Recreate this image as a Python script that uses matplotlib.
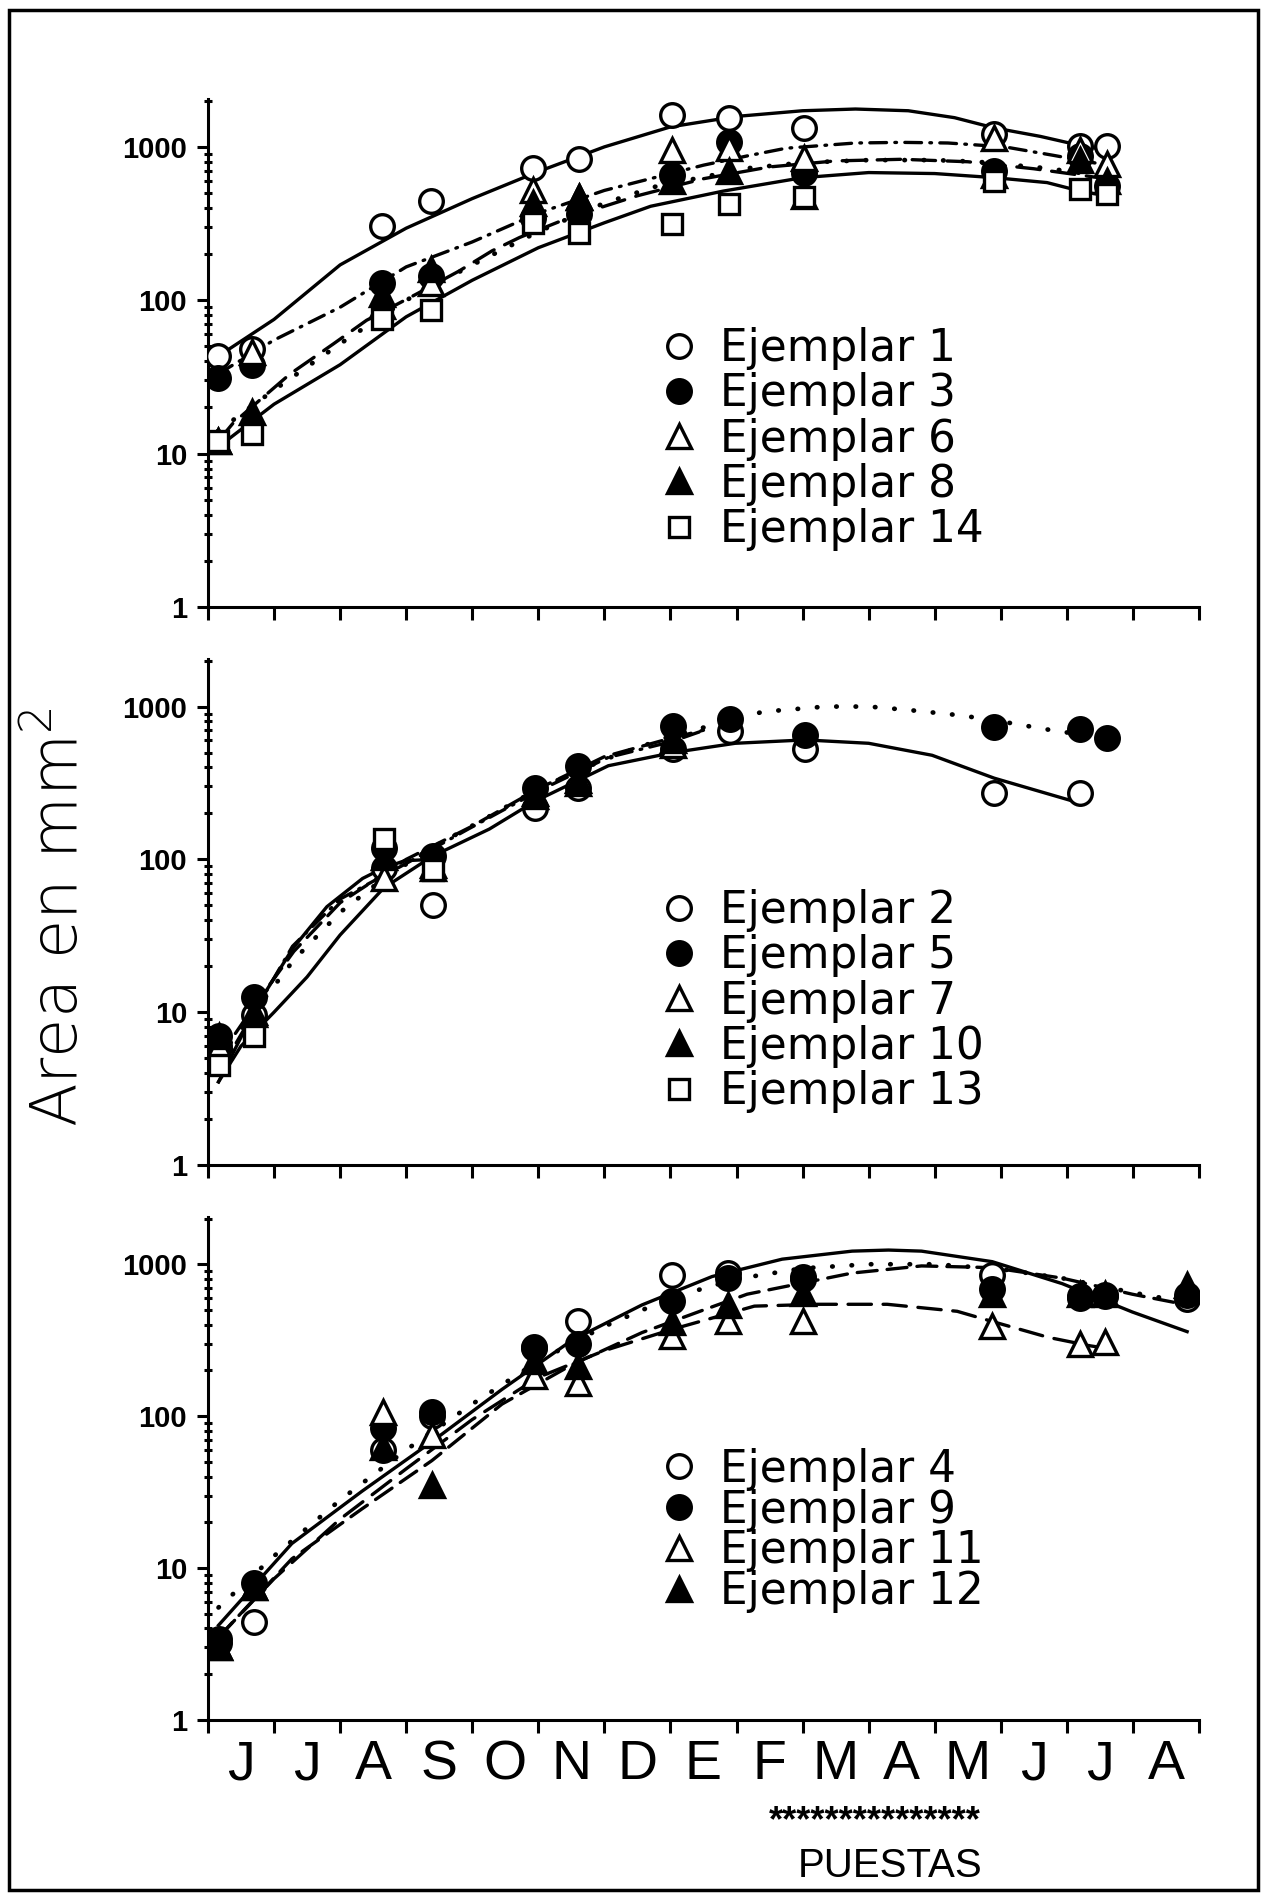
import matplotlib
matplotlib.use("Agg")
import matplotlib.pyplot as plt
from matplotlib.lines import Line2D
from matplotlib.patches import Rectangle

meses = ["J", "J", "A", "S", "O", "N", "D", "E", "F", "M", "A", "M", "J", "J", "A"]

# --- panel superior: ejemplares 1, 3, 6, 8, 14 (meses desde 1 de junio)
fechas_a = [0.15, 0.66, 2.63, 3.38, 4.92, 5.61, 7.03, 7.89, 9.02, 11.9, 13.2, 13.6]
ej1 = [43, 48, 305, 445, 730, 835, 1620, 1550, 1330, 1215, 1020, 1010]
ej3 = [31, 38, 130, 145, 345, 365, 655, 1070, 680, 700, 870, 555]
ej6 = [12, 46, 92, 130, 520, 470, 960, 980, 850, 1150, 960, 770]
ej8 = [12, 18.6, 110, 160, 430, 470, 600, 700, 480, 660, 820, 600]
ej14 = [12, 13.5, 76, 86, 320, 275, 315, 425, 470, 600, 530, 495]

aj1_x = [0.15, 1, 2, 3, 4, 5, 6, 7, 8, 9, 9.8, 10.6, 11.3, 11.9, 12.6, 13.1, 13.6]
aj1_y = [43, 75, 170, 295, 460, 690, 1000, 1350, 1580, 1720, 1765, 1720, 1550, 1330, 1170, 1045, 950]
aj3_x = [0.15, 1, 2, 3, 4, 5, 6, 7, 7.5, 8.2, 8.75, 9.8, 10.5, 11.2, 12.06, 12.8, 13.4, 13.6]
aj3_y = [33, 55, 90, 165, 240, 370, 520, 670, 760, 880, 980, 1060, 1070, 1060, 1000, 880, 790, 760]
aj6_x = [0.15, 1, 2, 3, 4, 5, 6, 6.77, 7.45, 8.16, 9, 10, 11, 11.65, 12.34, 12.7, 13.6]
aj6_y = [14, 26, 52, 100, 170, 280, 430, 550, 630, 725, 790, 820, 820, 800, 750, 725, 640]
aj8_x = [0.15, 0.38, 1.24, 1.9, 2.4, 3.16, 3.8, 4.3, 4.72, 5.5, 6.5, 7.5, 8.5, 9.5, 10.5, 11.5, 12.5, 13.6]
aj8_y = [12, 15.8, 33, 52, 74, 110, 155, 210, 257, 350, 480, 620, 740, 810, 830, 800, 720, 620]
aj14_x = [0.15, 1, 2, 3, 4, 5, 6, 6.7, 7.8, 9, 10, 11, 11.9, 12.7, 13.2, 13.6]
aj14_y = [11, 21, 38, 78, 135, 220, 320, 410, 515, 630, 680, 670, 630, 585, 515, 480]

# --- panel central: ejemplares 2, 5, 7, 10, 13
fechas_b = [0.16, 0.7, 2.66, 3.4, 4.95, 5.6, 7.04, 7.9, 9.04, 11.9, 13.2, 13.6]
ej2 = [6, 9.6, 88, 50, 216, 295, 530, 690, 530, 270, 270]
ej5 = [7, 12.5, 118, 105, 295, 410, 750, 830, 655, 730, 710, 620]
ej7 = [6, 9.8, 76, 88, 270, 315, 560]
ej10 = [7, 10, 103, 92, 260, 330, 600]
ej13 = [4.5, 7, 135, 85]

aj2_x = [0.16, 0.5, 1, 1.5, 2, 2.66, 3.4, 4.26, 4.95, 6.06, 7.04, 7.98, 9.04, 10, 10.96, 11.9, 13.1]
aj2_y = [3.5, 6, 10, 17, 32, 65, 105, 158, 240, 410, 500, 575, 605, 575, 480, 340, 240]
aj5_x = [0.16, 0.7, 1.3, 2, 2.66, 3.4, 4.2, 5, 6, 7, 8, 8.4, 9.35, 10, 10.6, 11.4, 12, 12.77, 13.6]
aj5_y = [5, 10, 22, 45, 75, 120, 185, 290, 450, 640, 830, 925, 1000, 1000, 950, 875, 800, 700, 620]
aj7_x = [0.16, 0.7, 1.28, 2, 2.98, 3.94, 5, 6.06, 7.02, 7.55]
aj7_y = [4, 10, 27, 55, 93, 158, 280, 465, 590, 710]
aj10_x = [0.16, 0.7, 1.3, 2, 3, 4, 5, 6, 7, 7.5]
aj10_y = [5, 11, 25, 52, 100, 165, 290, 470, 620, 700]
aj13_x = [0.16, 0.74, 1.28, 1.8, 2.34, 2.66, 2.98, 3.4]
aj13_y = [3.5, 11, 26, 49, 75, 88, 98, 100]

# --- panel inferior: ejemplares 4, 9, 11, 12
fechas_c = [0.16, 0.69, 2.65, 3.39, 4.93, 5.6, 7.02, 7.87, 9.0, 11.87, 13.2, 13.57, 14.82]
ej4 = [3.2, 4.4, 60, 100, 280, 425, 850, 875, 800, 850, 600, 620, 590]
ej9 = [3.4, 8, 83, 107, 285, 300, 570, 810, 830, 690, 620, 630, 630]
ej11 = [3, 7.5, 107, 75, 185, 165, 335, 425, 425, 390, 300, 310]
ej12 = [3, 7.5, 63, 35, 230, 215, 415, 540, 650, 640, 640, 640, 725]

aj4_x = [0.16, 0.69, 1.27, 2.33, 3.39, 4.45, 5.51, 6.57, 7.63, 8.69, 9.75, 10.3, 10.8, 11.87, 12.93, 13.99, 14.82]
aj4_y = [4.2, 7.6, 14.5, 32, 68, 150, 316, 540, 830, 1080, 1220, 1240, 1220, 1040, 745, 485, 360]
aj9_x = [0.16, 1, 2, 3, 4, 5, 6, 7, 8, 9, 10, 11, 12, 13, 14, 14.82]
aj9_y = [5.5, 12, 28, 60, 120, 230, 390, 600, 800, 940, 1000, 1000, 930, 800, 650, 560]
aj12_x = [0.16, 1.27, 2.33, 3.39, 4.45, 5.51, 6.57, 7.5, 8.16, 9.75, 10.8, 11.87, 12.93, 13.99, 14.82]
aj12_y = [3.5, 11.5, 24.5, 51, 120, 218, 355, 500, 635, 875, 975, 950, 810, 635, 540]
aj11_x = [0.16, 1, 2, 3, 4, 5, 6, 7, 8.27, 9.22, 10.28, 11.34, 11.87, 12.72, 13.36, 13.6]
aj11_y = [3.5, 8.5, 21, 45, 95, 180, 270, 370, 530, 545, 545, 490, 420, 330, 290, 280]

SOLID = "-"
DOT = (0, (0.1, 4.0))
DASHDOT = (0, (5, 2.5, 0.5, 2.5))
DASH = (0, (6, 3))
LONGDASH = (0, (7, 3.5))

MK = {"oc": ("o", "white"), "of": ("o", "black"), "tc": ("^", "white"),
      "tf": ("^", "black"), "sc": ("s", "white")}

paneles = [
    {
        "pos": [0.164, 0.6795, 0.7816, 0.2682],
        "series": [("Ejemplar 1", "oc", fechas_a, ej1), ("Ejemplar 3", "of", fechas_a, ej3),
                   ("Ejemplar 6", "tc", fechas_a, ej6), ("Ejemplar 8", "tf", fechas_a, ej8),
                   ("Ejemplar 14", "sc", fechas_a, ej14)],
        "curvas": [(aj1_x, aj1_y, SOLID), (aj3_x, aj3_y, DASHDOT), (aj6_x, aj6_y, DOT),
                   (aj8_x, aj8_y, LONGDASH), (aj14_x, aj14_y, SOLID)],
        "leg": (0.453, 0.551), "sep": 0.05,
    },
    {
        "pos": [0.164, 0.3849, 0.7816, 0.2672],
        "series": [("Ejemplar 2", "oc", fechas_b, ej2), ("Ejemplar 5", "of", fechas_b, ej5),
                   ("Ejemplar 7", "tc", fechas_b, ej7), ("Ejemplar 10", "tf", fechas_b, ej10),
                   ("Ejemplar 13", "sc", fechas_b, ej13)],
        "curvas": [(aj2_x, aj2_y, SOLID), (aj5_x, aj5_y, DOT), (aj7_x, aj7_y, DASHDOT),
                   (aj10_x, aj10_y, DASH), (aj13_x, aj13_y, SOLID)],
        "leg": (0.453, 0.545), "sep": 0.05,
    },
    {
        "pos": [0.164, 0.0919, 0.7816, 0.2656],
        "series": [("Ejemplar 4", "oc", fechas_c, ej4), ("Ejemplar 9", "of", fechas_c, ej9),
                   ("Ejemplar 11", "tc", fechas_c, ej11), ("Ejemplar 12", "tf", fechas_c, ej12)],
        "curvas": [(aj4_x, aj4_y, SOLID), (aj9_x, aj9_y, DOT), (aj12_x, aj12_y, DASH),
                   (aj11_x, aj11_y, LONGDASH)],
        "leg": (0.453, 0.541), "sep": -0.05,
    },
]

fig = plt.figure(figsize=(12.68, 18.94), dpi=100)
fig.patches.append(Rectangle((9 / 1268, 4 / 1894), 1249 / 1268, 1880 / 1894,
                             transform=fig.transFigure, fill=False, lw=2.5, ec="black"))

for i, p in enumerate(paneles):
    ax = fig.add_axes(p["pos"])
    for cx, cy, ls in p["curvas"]:
        lw = 2.4 if ls != DOT else 3.4
        ax.plot(cx, cy, color="black", lw=lw, ls=ls, dash_capstyle="round", zorder=2)
    handles, names = [], []
    for name, key, fx, vals in p["series"]:
        mk, face = MK[key]
        ms = 15 if mk == "s" else 17
        ax.plot(fx[:len(vals)], vals, ls="none", marker=mk, ms=ms, mfc=face,
                mec="black", mew=2.4, zorder=3)
        handles.append(Line2D([], [], ls="none", marker=mk, ms=ms, mfc=face, mec="black", mew=2.4))
        names.append(name)
    ax.legend(handles, names, loc="upper left", bbox_to_anchor=p["leg"], frameon=False,
              borderpad=0, borderaxespad=0, handlelength=1.0, handletextpad=0.45,
              labelspacing=p["sep"], prop={"family": "DejaVu Sans", "size": 31.5})

    ax.set_yscale("log")
    ax.set_ylim(1, 2050)
    ax.set_xlim(0, 15)
    ax.spines[["top", "right"]].set_visible(False)
    ax.spines[["left", "bottom"]].set_linewidth(2.2)
    ax.set_yticks([1, 10, 100, 1000], labels=["1", "10", "100", "1000"])
    for t in ax.get_yticklabels():
        t.set_fontweight("bold")
        t.set_fontfamily(["Liberation Sans", "DejaVu Sans"])
        t.set_fontsize(21)
    ax.tick_params(axis="y", which="major", direction="out", length=8, width=2.2, pad=7)
    ax.tick_params(axis="y", which="minor", direction="inout", length=6, width=2.2)
    ax.set_xticks(range(16))
    ax.tick_params(axis="x", which="major", direction="out", length=9, width=2.2, labelbottom=False)
    if i == 2:
        ax.set_xticks([m + 0.5 for m in range(15)], labels=meses, minor=True)
        ax.tick_params(axis="x", which="minor", length=0, pad=14)
        for t in ax.get_xticklabels(minor=True):
            t.set_fontfamily(["Liberation Sans Narrow", "Liberation Sans"])
            t.set_fontsize(40)
    else:
        ax.tick_params(axis="x", which="minor", length=0, labelbottom=False)

fig.text(0.047, 0.516, r"Area en mm$^{\mathregular{2}}$", rotation=90, ha="center", va="center",
         fontsize=46, fontweight="light", family="DejaVu Sans")
fig.text(0.690, 0.038, "*" * 15, ha="center", va="center", fontsize=26, fontweight="bold",
         family=["Liberation Sans", "DejaVu Sans"])
fig.text(0.702, 0.0148, "PUESTAS", ha="center", va="center", fontsize=29,
         family=["Liberation Sans Narrow", "Liberation Sans"])

fig.savefig("out.png", dpi=100)
